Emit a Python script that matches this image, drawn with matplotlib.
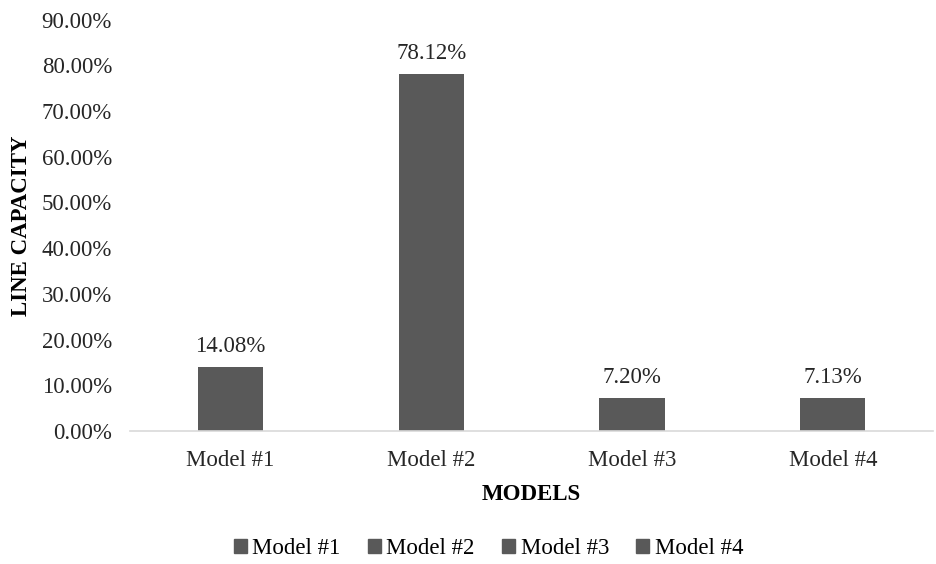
import matplotlib.pyplot as plt
from matplotlib.patches import Patch

models = ["Model #1", "Model #2", "Model #3", "Model #4"]
capacity = [14.08, 78.12, 7.20, 7.13]
bar_color = "#595959"

plt.rcParams['font.family'] = ['Liberation Serif', 'DejaVu Serif']
fs = 16.5

fig = plt.figure(figsize=(9.36, 5.64), dpi=100)
ax = fig.add_axes([0.139, 0.236, 0.858, 0.729])

x = list(range(len(models)))
bars = ax.bar(x, capacity, width=0.325, color=bar_color)
for b, v in zip(bars, capacity):
    ax.text(b.get_x() + b.get_width() / 2, v + 2.2, f"{v:.2f}%",
            ha="center", va="bottom", fontsize=fs, color="#262626")

ax.set_xlim(-0.5, len(models) - 0.5)
ax.set_ylim(0, 90)
ax.set_yticks(range(0, 91, 10))
ax.set_yticklabels([f"{t:.2f}%" for t in range(0, 91, 10)], fontsize=fs, color="#262626")
ax.set_xticks(x)
ax.set_xticklabels(models, fontsize=fs, color="#262626")
ax.tick_params(axis="y", length=0, pad=13)
ax.tick_params(axis="x", length=0, pad=14)

for s in ["top", "right", "left"]:
    ax.spines[s].set_visible(False)
ax.spines["bottom"].set_color("#d9d9d9")
ax.spines["bottom"].set_linewidth(1.2)

ax.set_xlabel("MODELS", fontsize=fs, fontweight="bold", labelpad=9)
ax.set_ylabel("LINE CAPACITY", fontsize=fs, fontweight="bold")
ax.yaxis.set_label_coords(-0.122, 0.5)

handles = [Patch(color=bar_color, label=m) for m in models]
fig.legend(handles=handles, loc="center", bbox_to_anchor=(0.522, 0.028), ncol=4,
           frameon=False, fontsize=fs, handlelength=0.55, handleheight=0.55,
           handletextpad=0.25, columnspacing=1.2)

fig.savefig("out.png", dpi=100)
